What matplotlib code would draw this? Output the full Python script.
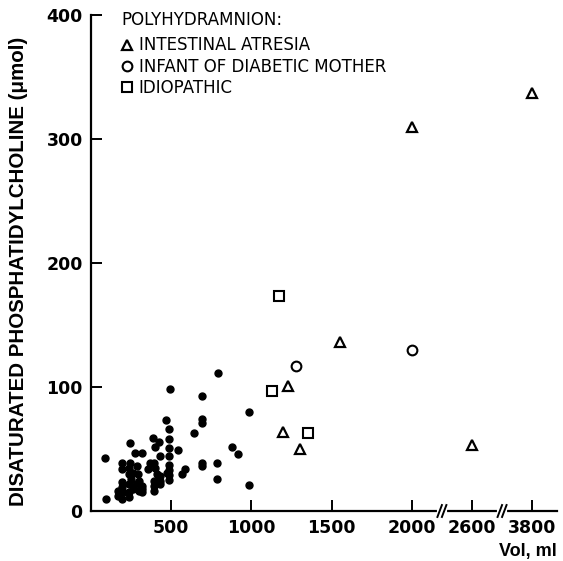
import numpy as np
import matplotlib
matplotlib.use("Agg")
import matplotlib.pyplot as plt
import matplotlib.transforms as mtransforms

plt.rcParams["font.family"] = ["Liberation Sans", "DejaVu Sans"]

# normal (filled dots)
dot_vol = [790, 490, 690, 985, 465, 690, 690, 640, 485, 485, 485, 485, 545,
           880, 915, 690, 690, 785, 585, 565, 485, 485, 485, 485, 785, 985,
           388, 422, 402, 245, 275, 320, 432, 86, 192, 243, 365, 392, 192,
           239, 284, 357, 402, 239, 259, 290, 412, 432, 473, 249, 300, 392,
           432, 192, 239, 280, 320, 392, 432, 192, 167, 198, 259, 300, 320,
           239, 392, 96, 167, 192, 239, 320]
dot_dspc = [111, 98, 93, 80, 73, 74, 71, 63, 66, 58, 51, 44, 49,
            52, 46, 39, 36, 39, 34, 30, 37, 33, 29, 25, 26, 21,
            59, 56, 52, 55, 47, 47, 44, 43, 39, 39, 39, 39, 34,
            35, 36, 34, 35, 30, 31, 30, 30, 28, 31, 25.5, 24, 24,
            24, 23, 21.5, 21.5, 20, 20, 21.5, 19, 16, 15, 17.5, 16, 17.5,
            15, 16, 9.5, 12, 9.5, 11, 15]

# polyhydramnion groups
atresia_vol = [1200, 1300, 1225, 1550, 2000, 2600, 3800]
atresia_dspc = [64, 50, 101, 136, 310, 53, 337]
diabetic_vol = [1280, 2000]
diabetic_dspc = [117, 130]
idio_vol = [1170, 1130, 1350]
idio_dspc = [173, 97, 63]

xticks = [500, 1000, 1500, 2000, 2600, 3800]
yticks = [0, 100, 200, 300, 400]

# broken x axis: 2000->2600 and 2600->3800 squeezed
knots_data = [-1000, 2000, 2600, 3800, 5000]
knots_pos = [-1000, 2000, 2375, 2750, 3125]


def fwd(x):
    return np.interp(x, knots_data, knots_pos)


def inv(x):
    return np.interp(x, knots_pos, knots_data)


fig = plt.figure(figsize=(5.63, 5.61), dpi=100)
ax = fig.add_axes([91 / 563, 50 / 561, 466 / 563, 496 / 561])
ax.set_xscale("function", functions=(fwd, inv))

ax.plot(dot_vol, dot_dspc, "o", color="black", ms=5, mec="black", ls="none")
ax.plot(atresia_vol, atresia_dspc, "^", ms=7, mfc="white", mec="black", mew=1.6,
        ls="none", label="INTESTINAL ATRESIA")
ax.plot(diabetic_vol, diabetic_dspc, "o", ms=7, mfc="white", mec="black", mew=1.5,
        ls="none", label="INFANT OF DIABETIC MOTHER")
ax.plot(idio_vol, idio_dspc, "s", ms=7, mfc="white", mec="black", mew=1.5,
        ls="none", label="IDIOPATHIC")

ax.set_xlim(0, inv(2905))
ax.set_ylim(0, 400)
ax.set_xticks(xticks)
ax.set_xticklabels([str(t) for t in xticks])
ax.set_yticks(yticks)
ax.spines["top"].set_visible(False)
ax.spines["right"].set_visible(False)
for s in ["left", "bottom"]:
    ax.spines[s].set_linewidth(1.6)
ax.tick_params(direction="in", length=8, width=1.4, pad=6)
for lab in ax.get_xticklabels() + ax.get_yticklabels():
    lab.set_fontweight("bold")
    lab.set_fontfamily("DejaVu Sans")
    lab.set_fontsize(12.5)

ax.set_ylabel("DISATURATED PHOSPHATIDYLCHOLINE (μmol)", fontsize=14.8,
              fontweight="bold")
ax.yaxis.set_label_coords(-0.135, 0.484)
ax.set_xlabel("Vol, ml", fontsize=13, fontweight="bold", loc="right")
ax.xaxis.set_label_coords(1.0, -0.065)

# axis break marks
trans = mtransforms.blended_transform_factory(ax.transData, ax.transAxes)
for mid in [2187.5, 2562.5]:
    ax.plot([inv(mid - 18), inv(mid + 18)], [0, 0], color="white", lw=3,
            transform=trans, clip_on=False, zorder=5)
    for off in [-14, 14]:
        ax.plot([inv(mid + off - 14), inv(mid + off + 14)], [-0.012, 0.012],
                color="black", lw=1.4, transform=trans, clip_on=False, zorder=6)

ax.text(0.066, 0.99, "POLYHYDRAMNION:", transform=ax.transAxes, va="center",
        ha="left", family="DejaVu Sans", fontsize=12)
leg = ax.legend(loc="upper left", bbox_to_anchor=(0.061, 0.962), frameon=False,
                prop={"family": "DejaVu Sans", "size": 12},
                handlelength=0.55, handletextpad=0.45, borderaxespad=0,
                labelspacing=0.2, borderpad=0.15)

fig.savefig("out.png", dpi=100)
